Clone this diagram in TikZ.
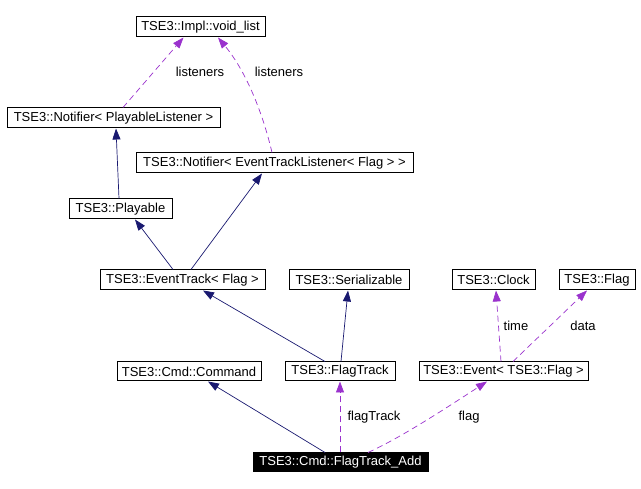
\documentclass[tikz,border=0pt]{standalone}
\usepackage{fontspec}
\setmainfont{Liberation Sans}
\usetikzlibrary{arrows.meta}
\definecolor{inh}{HTML}{191970}
\definecolor{use}{HTML}{9A32CD}
\tikzset{
  box/.style={draw=black, line width=1pt, fill=white, inner sep=0pt, font=\fontsize{13}{15}\selectfont, text=black},
  selbox/.style={box, fill=black, text=white},
  inhedge/.style={draw=inh, line width=0.7pt, -{Triangle[length=11pt,width=8pt]}},
  useedge/.style={draw=use, line width=0.7pt, dash pattern=on 6pt off 4pt, -{Triangle[length=11pt,width=8pt]}},
  lbl/.style={font=\fontsize{13}{15}\selectfont, inner sep=0pt}
}
\newcommand{\bx}[7][box]{\node[#1, minimum width={(#5-#3)*1pt}, minimum height={(#6-#4)*1pt}] (#2) at ({(#3+#5)/2},{(#4+#6)/2}) {#7};}
\begin{document}
\begin{tikzpicture}[x=1pt,y=-1pt]
\useasboundingbox (0,0) rectangle (641,489);
\bx{void}{136}{17}{265}{37}{TSE3::Impl::void\_list}
\bx{npl}{7}{108}{220}{128}{TSE3::Notifier< PlayableListener >}
\bx{netl}{136}{153}{413}{173}{TSE3::Notifier< EventTrackListener< Flag > >}
\bx{play}{69}{199}{172}{219}{TSE3::Playable}
\bx{et}{100}{270}{265}{290}{TSE3::EventTrack< Flag >}
\bx{ser}{289}{270}{409}{290}{TSE3::Serializable}
\bx{clock}{452}{270}{535}{290}{TSE3::Clock}
\bx{flag}{559}{270}{635}{290}{TSE3::Flag}
\bx{cmd}{117}{362}{261}{381}{TSE3::Cmd::Command}
\bx{ft}{285}{362}{395}{381}{TSE3::FlagTrack}
\bx{ev}{419}{362}{588}{381}{TSE3::Event< TSE3::Flag >}
\bx[selbox]{fta}{253}{453}{428}{472}{TSE3::Cmd::FlagTrack\_Add}

% inheritance
\draw[inhedge] ([xshift=-1.5pt]play.north) -- ([xshift=2.5pt]npl.south);
\draw[inhedge] ([xshift=-9.5pt]et.north) -- ([xshift=14.5pt]play.south);
\draw[inhedge] ([xshift=8.5pt]et.north) -- ([xshift=-12.5pt]netl.south);
\draw[inhedge] ([xshift=-15pt]ft.north) -- ([xshift=20.5pt]et.south);
\draw[inhedge] ([xshift=1pt]ft.north) -- ([xshift=-1pt]ser.south);
\draw[inhedge] ([xshift=-15.5pt]fta.north) -- ([xshift=19pt]cmd.south);

% usage
\draw[useedge] ([xshift=9.5pt]npl.north) -- ([xshift=-17pt]void.south);
\draw[useedge] ([xshift=-2.5pt]netl.north) .. controls (262,110) and (245,70) .. ([xshift=17.5pt]void.south);
\draw[useedge] ([xshift=-2.5pt]ev.north) -- ([xshift=2.5pt]clock.south);
\draw[useedge] ([xshift=9.5pt]ev.north) -- ([xshift=-10pt]flag.south);
\draw[useedge] ([xshift=-0.5pt]fta.north) -- (ft.south);
\draw[useedge] ([xshift=27.5pt]fta.north) .. controls (400,438) and (440,412) .. ([xshift=-16.5pt]ev.south);

\node[lbl] (l1) at (200,72) {listeners};
\node[lbl] (l2) at (279,72) {listeners};
\node[lbl] (l3) at (516,326) {time};
\node[lbl] (l4) at (583,326) {data};
\node[lbl] (l5) at (374,417) {flagTrack};
\node[lbl] (l6) at (469,417) {flag};
\end{tikzpicture}
\end{document}
